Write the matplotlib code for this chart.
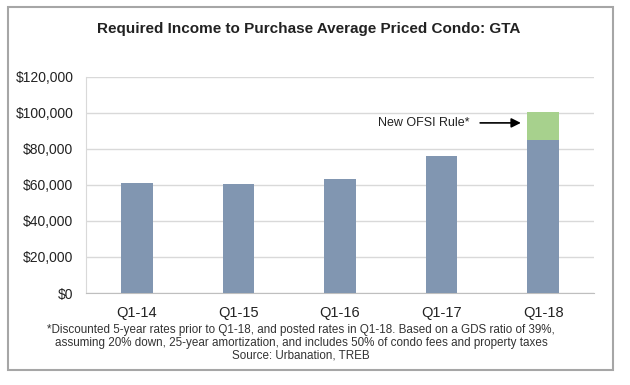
import matplotlib.pyplot as plt
from matplotlib.patches import Rectangle
from matplotlib.ticker import FuncFormatter

plt.rcParams['font.family'] = ['Liberation Sans', 'DejaVu Sans']

quarters = ["Q1-14", "Q1-15", "Q1-16", "Q1-17", "Q1-18"]
income_base = [61300, 60600, 63300, 76100, 85000]
ofsi_extra = [0, 0, 0, 0, 15500]

BLUE = "#8196b1"
GREEN = "#a7d18d"

fig = plt.figure(figsize=(6.3, 3.85), dpi=100)
ax = fig.add_axes([86 / 630, 1 - 293 / 385, (594 - 86) / 630, (293 - 77) / 385])

x = range(len(quarters))
ax.bar(x, income_base, width=0.31, color=BLUE, zorder=3)
ax.bar(x, ofsi_extra, width=0.31, bottom=income_base, color=GREEN, zorder=3)

ax.set_xlim(-0.5, len(quarters) - 0.5)
ax.set_ylim(0, 120000)
ax.set_yticks(range(0, 120001, 20000))
ax.yaxis.set_major_formatter(FuncFormatter(lambda v, p: "${:,.0f}".format(v)))
ax.set_xticks(list(x))
ax.set_xticklabels(quarters)
ax.grid(axis="y", color="#d9d9d9", linewidth=1, zorder=0)
ax.tick_params(axis="y", length=0, labelsize=10, colors="#222222", pad=9)
ax.tick_params(axis="x", length=0, labelsize=10.5, colors="#222222", pad=9)
for s in ["top", "right"]:
    ax.spines[s].set_visible(False)
ax.spines["left"].set_color("#d9d9d9")
ax.spines["bottom"].set_color("#bfbfbf")

ax.annotate("New OFSI Rule*", xy=(3.78, 94500), xytext=(3.27, 94500),
            ha="right", va="center", fontsize=9, color="#222222",
            arrowprops=dict(arrowstyle="-|>", color="black", lw=1.2,
                            shrinkA=6, shrinkB=0, mutation_scale=14))

fig.text(0.49, 1 - 29 / 385, "Required Income to Purchase Average Priced Condo: GTA",
         ha="center", va="center", fontsize=11, fontweight="bold", color="#222222")

notes = [
    "*Discounted 5-year rates prior to Q1-18, and posted rates in Q1-18. Based on a GDS ratio of 39%,",
    "assuming 20% down, 25-year amortization, and includes 50% of condo fees and property taxes",
    "Source: Urbanation, TREB",
]
for i, line in enumerate(notes):
    fig.text(0.478, 1 - (330 + 13 * i) / 385, line, ha="center", va="center",
             fontsize=8.4, color="#333333")

fig.patches.append(Rectangle((8 / 630, 1 - 370 / 385), 605 / 630, 363 / 385,
                             transform=fig.transFigure, fill=False,
                             edgecolor="#a6a6a6", linewidth=1.5))

fig.savefig("out.png", dpi=100)
